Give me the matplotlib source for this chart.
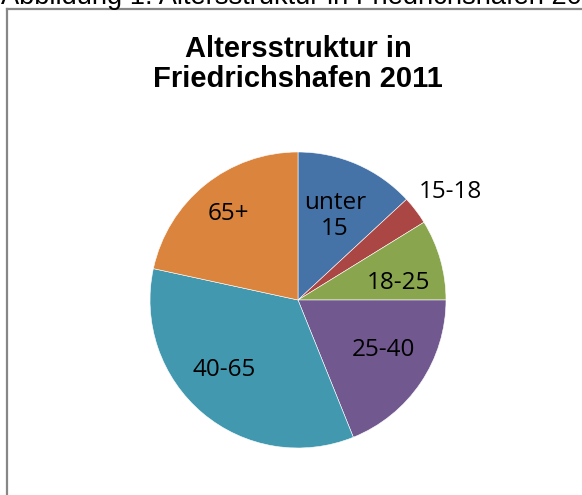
import numpy as np
import matplotlib.pyplot as plt
from matplotlib.lines import Line2D

# Altersstruktur in Friedrichshafen 2011 (shares in percent)
groups = ['unter\n15', '15-18', '18-25', '25-40', '40-65', '65+']
shares = [13.1, 3.1, 8.8, 18.9, 34.5, 21.6]
colors = ['#4572A7', '#AA4643', '#89A54E', '#71588F', '#4198AF', '#DB843D']

# label placement (fraction of radius, angle shift in degrees)
label_r = [0.62, 1.26, 0.69, 0.67, 0.69, 0.75]
label_shift = [0, -2, -6, 4, -6.5, 0]

W, H = 582, 495
fig = plt.figure(figsize=(W / 100, H / 100), dpi=100)

# cut-off caption at the very top
fig.text(1 / W, 1 - 4 / H, 'Abbildung 1: Altersstruktur in Friedrichshafen 2011',
         ha='left', va='baseline', fontsize=19.6, family='Liberation Sans')

# chart frame (only the top and left edges are inside the picture)
fig.add_artist(Line2D([6.5 / W, 1.0], [1 - 9 / H, 1 - 9 / H], color='#878787', lw=1.6))
fig.add_artist(Line2D([6.5 / W, 6.5 / W], [1 - 9 / H, 0.0], color='#878787', lw=1.6))

fig.text(298 / W, 1 - 64 / H, 'Altersstruktur in\nFriedrichshafen 2011',
         ha='center', va='center', fontsize=21, fontweight='bold',
         family='Liberation Sans', linespacing=1.12)

cx, cy, r = 298, 300, 148
ax = fig.add_axes([(cx - r) / W, (H - cy - r) / H, 2 * r / W, 2 * r / H])
wedges, _ = ax.pie(shares, colors=colors, startangle=90, counterclock=False,
                   radius=1, wedgeprops=dict(edgecolor='white', linewidth=0.4))
ax.set_xlim(-1, 1)
ax.set_ylim(-1, 1)
ax.set_aspect('equal')
ax.axis('off')

for w, lab, d, s in zip(wedges, groups, label_r, label_shift):
    mid = np.deg2rad((w.theta1 + w.theta2) / 2 + s)
    ax.text(d * np.cos(mid), d * np.sin(mid), lab, ha='center', va='center',
            fontsize=17.5, family='Open Sans', linespacing=1.15)

fig.savefig('out.png', dpi=100)
